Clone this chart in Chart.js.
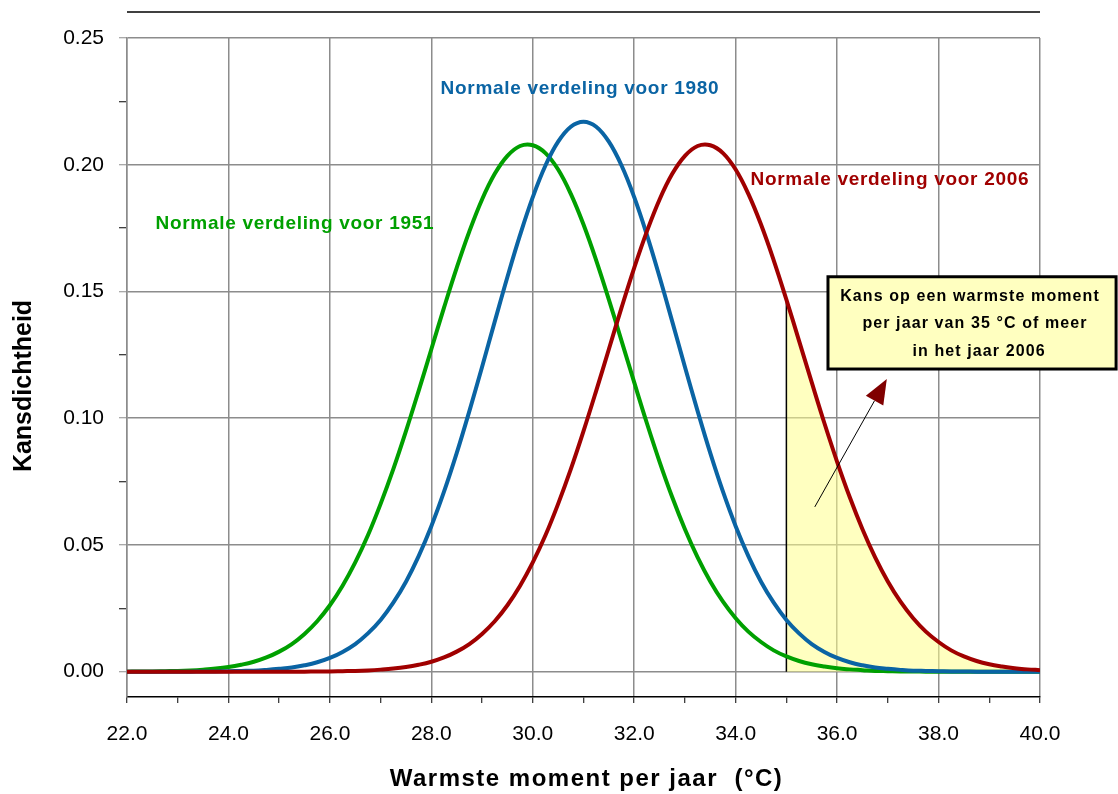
<!DOCTYPE html>
<html>
<head>
<meta charset="utf-8">
<title>Kansdichtheid warmste moment per jaar</title>
<script src="https://cdn.jsdelivr.net/npm/chart.js@4.4.1/dist/chart.umd.min.js"></script>
<style>
  html, body { margin: 0; padding: 0; background: #fff; }
</style>
</head>
<body>
<canvas id="chart" width="1118" height="794"></canvas>
<script>
// temperatures (°C), step 0.25
const temps = [22.00, 22.25, 22.50, 22.75, 23.00, 23.25, 23.50, 23.75, 24.00, 24.25, 24.50, 24.75,
    25.00, 25.25, 25.50, 25.75, 26.00, 26.25, 26.50, 26.75, 27.00, 27.25, 27.50, 27.75,
    28.00, 28.25, 28.50, 28.75, 29.00, 29.25, 29.50, 29.75, 30.00, 30.25, 30.50, 30.75,
    31.00, 31.25, 31.50, 31.75, 32.00, 32.25, 32.50, 32.75, 33.00, 33.25, 33.50, 33.75,
    34.00, 34.25, 34.50, 34.75, 35.00, 35.25, 35.50, 35.75, 36.00, 36.25, 36.50, 36.75,
    37.00, 37.25, 37.50, 37.75, 38.00, 38.25, 38.50, 38.75, 39.00, 39.25, 39.50, 39.75, 40.00];

// probability density
const dens1951 = [0.0000, 0.0001, 0.0001, 0.0002, 0.0003, 0.0005, 0.0008, 0.0012, 0.0018, 0.0027,
    0.0039, 0.0056, 0.0079, 0.0109, 0.0149, 0.0199, 0.0262, 0.0339, 0.0431, 0.0538, 0.0662,
    0.0799, 0.0949, 0.1108, 0.1272, 0.1436, 0.1593, 0.1737, 0.1863, 0.1964, 0.2035, 0.2074,
    0.2077, 0.2046, 0.1981, 0.1885, 0.1764, 0.1623, 0.1468, 0.1305, 0.1141, 0.0980, 0.0828,
    0.0688, 0.0562, 0.0451, 0.0356, 0.0276, 0.0211, 0.0158, 0.0117, 0.0084, 0.0060, 0.0042,
    0.0029, 0.0020, 0.0013, 0.0009, 0.0006, 0.0003, 0.0002, 0.0001, 0.0001, 0.0000, 0.0000,
    0.0000, 0.0000, 0.0000, 0.0000, 0.0000, 0.0000, 0.0000, 0.0000];
const dens1980 = [0.0000, 0.0000, 0.0000, 0.0000, 0.0000, 0.0000, 0.0001, 0.0001, 0.0002, 0.0003,
    0.0004, 0.0007, 0.0011, 0.0016, 0.0025, 0.0037, 0.0054, 0.0078, 0.0109, 0.0151, 0.0204,
    0.0272, 0.0355, 0.0456, 0.0574, 0.0710, 0.0862, 0.1028, 0.1202, 0.1381, 0.1557, 0.1723,
    0.1872, 0.1997, 0.2091, 0.2150, 0.2170, 0.2150, 0.2091, 0.1997, 0.1872, 0.1723, 0.1557,
    0.1381, 0.1202, 0.1028, 0.0862, 0.0710, 0.0574, 0.0456, 0.0355, 0.0272, 0.0204, 0.0151,
    0.0109, 0.0078, 0.0054, 0.0037, 0.0025, 0.0016, 0.0011, 0.0007, 0.0004, 0.0003, 0.0002,
    0.0001, 0.0001, 0.0000, 0.0000, 0.0000, 0.0000, 0.0000, 0.0000];
const dens2006 = [0.0000, 0.0000, 0.0000, 0.0000, 0.0000, 0.0000, 0.0000, 0.0000, 0.0000, 0.0000,
    0.0000, 0.0000, 0.0000, 0.0000, 0.0000, 0.0001, 0.0001, 0.0002, 0.0003, 0.0005, 0.0008,
    0.0012, 0.0018, 0.0027, 0.0039, 0.0056, 0.0079, 0.0109, 0.0149, 0.0199, 0.0262, 0.0339,
    0.0431, 0.0538, 0.0662, 0.0799, 0.0949, 0.1108, 0.1272, 0.1436, 0.1593, 0.1737, 0.1863,
    0.1964, 0.2035, 0.2074, 0.2077, 0.2046, 0.1981, 0.1885, 0.1764, 0.1623, 0.1468, 0.1305,
    0.1141, 0.0980, 0.0828, 0.0688, 0.0562, 0.0451, 0.0356, 0.0276, 0.0211, 0.0158, 0.0117,
    0.0084, 0.0060, 0.0042, 0.0029, 0.0020, 0.0013, 0.0009, 0.0006];

const xTicks = [22, 23, 24, 25, 26, 27, 28, 29, 30, 31, 32, 33, 34, 35, 36, 37, 38, 39, 40];
const yTicks = [0, 0.025, 0.05, 0.075, 0.1, 0.125, 0.15, 0.175, 0.2, 0.225, 0.25];
const threshold = 35;

const FONT = 'Arial, "Liberation Sans", sans-serif';
const GRID = '#8c8c8c';
const GREEN = '#00a000';
const BLUE = '#0a64a4';
const RED = '#a00000';

const pts = (ys) => temps.map((t, i) => ({ x: t, y: ys[i] }));
const tailPts = pts(dens2006).filter(p => p.x >= threshold);
const redAtThreshold = dens2006[temps.indexOf(threshold)];
const isMajorY = (v) => Math.round(v * 1000) % 50 === 0;

// axis titles, frame line on top, curve labels, call-out box and arrow
const decor = {
    id: "decor",
    afterDraw(chart) {
        const { ctx, chartArea, scales } = chart;
        const px = (v) => scales.x.getPixelForValue(v);
        const py = (v) => scales.y.getPixelForValue(v);
        ctx.save();
        ctx.textAlign = 'center';
        ctx.textBaseline = 'middle';

        ctx.strokeStyle = '#000';
        ctx.lineWidth = 1.5;
        ctx.beginPath();
        ctx.moveTo(chartArea.left, chartArea.top - 26);
        ctx.lineTo(chartArea.right, chartArea.top - 26);
        ctx.stroke();

        // axis titles
        ctx.fillStyle = '#000';
        ctx.font = `bold 24px ${FONT}`;
        ctx.letterSpacing = '1.5px';
        ctx.fillText('Warmste moment per jaar  (°C)', (chartArea.left + chartArea.right) / 2 + 3, 779);
        ctx.save();
        ctx.translate(24, 386);
        ctx.rotate(-Math.PI / 2);
        ctx.font = `bold 25px ${FONT}`;
        ctx.letterSpacing = '0px';
        ctx.fillText('Kansdichtheid', 0, 0);
        ctx.restore();

        ctx.font = `bold 19px ${FONT}`;
        ctx.letterSpacing = '0.7px';
        ctx.fillStyle = GREEN;
        ctx.fillText('Normale verdeling voor 1951', px(25.31), py(0.1767));
        ctx.fillStyle = BLUE;
        ctx.fillText('Normale verdeling voor 1980', px(30.93), py(0.2299));
        ctx.fillStyle = RED;
        ctx.fillText('Normale verdeling voor 2006', px(37.04), py(0.194));

        // arrow
        const x0 = px(35.56), y0 = py(0.065);
        const x1 = px(36.98), y1 = py(0.1155);
        const ang = Math.atan2(y1 - y0, x1 - x0);
        const hl = 25, hw = 10;
        const bx = x1 - hl * Math.cos(ang), by = y1 - hl * Math.sin(ang);
        ctx.strokeStyle = '#000';
        ctx.lineWidth = 1;
        ctx.beginPath();
        ctx.moveTo(x0, y0);
        ctx.lineTo(bx, by);
        ctx.stroke();
        ctx.fillStyle = '#800000';
        ctx.beginPath();
        ctx.moveTo(x1, y1);
        ctx.lineTo(bx + hw * Math.sin(ang), by - hw * Math.cos(ang));
        ctx.lineTo(bx - hw * Math.sin(ang), by + hw * Math.cos(ang));
        ctx.closePath();
        ctx.fill();

        // call-out box
        const l = px(35.82), r = px(41.5), t = py(0.1558), b = py(0.1194);
        ctx.fillStyle = '#ffffc0';
        ctx.fillRect(l, t, r - l, b - t);
        ctx.strokeStyle = '#000';
        ctx.lineWidth = 3;
        ctx.strokeRect(l, t, r - l, b - t);
        ctx.fillStyle = '#000';
        ctx.font = `bold 16px ${FONT}`;
        ctx.letterSpacing = '1.1px';
        const cx = (l + r) / 2;
        ctx.fillText('Kans op een warmste moment', cx - 2, t + 20);
        ctx.fillText('per jaar van 35 °C of meer', cx + 3, t + 47);
        ctx.fillText('in het jaar 2006', cx + 7, t + 75);

        ctx.restore();
    }
};

new Chart(document.getElementById("chart"), {
    type: "line",
    data: {
        datasets: [
            {
                data: tailPts,
                fill: 'origin',
                backgroundColor: 'rgba(255,255,140,0.55)',
                borderWidth: 0,
                pointRadius: 0,
                tension: 0.4,
                order: 10,
            },
            {
                data: [{ x: threshold, y: 0 }, { x: threshold, y: redAtThreshold }],
                borderColor: '#000',
                borderWidth: 1.5,
                pointRadius: 0,
                order: 4,
            },
            {
                label: '1951',
                data: pts(dens1951),
                borderColor: GREEN,
                borderWidth: 4,
                pointRadius: 0,
                tension: 0.4,
                order: 3,
            },
            {
                label: '1980',
                data: pts(dens1980),
                borderColor: BLUE,
                borderWidth: 4,
                pointRadius: 0,
                tension: 0.4,
                order: 2,
            },
            {
                label: '2006',
                data: pts(dens2006),
                borderColor: RED,
                borderWidth: 4,
                pointRadius: 0,
                tension: 0.4,
                order: 1,
            },
        ],
    },
    options: {
        responsive: false,
        animation: false,
        devicePixelRatio: 1,
        layout: { padding: { top: 38, right: 78, left: 0, bottom: 0 } },
        plugins: {
            legend: { display: false },
            tooltip: { enabled: false },
        },
        scales: {
            x: {
                type: 'linear',
                min: 22,
                max: 40,
                afterBuildTicks: (s) => { s.ticks = xTicks.map(v => ({ value: v })); },
                afterFit: (s) => { s.height = 97; },
                ticks: {
                    autoSkip: false,
                    maxRotation: 0,
                    padding: 19,
                    color: '#000',
                    font: { family: FONT, size: 21 },
                    callback: (v) => (v % 2 === 0 ? v.toFixed(1) : ''),
                },
                grid: {
                    color: (c) => (c.tick && c.tick.value % 2 === 0 ? GRID : 'rgba(0,0,0,0)'),
                    lineWidth: 1.5,
                    tickColor: '#000',
                    tickLength: 6,
                    tickWidth: 1,
                },
                border: { color: '#000', width: 1.5 },
            },
            y: {
                min: -0.01,
                max: 0.25,
                afterBuildTicks: (s) => { s.ticks = yTicks.map(v => ({ value: v })); },
                afterFit: (s) => { s.width = 127; },
                ticks: {
                    padding: 15,
                    color: '#000',
                    font: { family: FONT, size: 21 },
                    callback: (v) => (isMajorY(v) ? v.toFixed(2) : ''),
                },
                grid: {
                    color: (c) => (c.tick && isMajorY(c.tick.value) ? GRID : 'rgba(0,0,0,0)'),
                    lineWidth: 1.5,
                    tickColor: (c) => (c.tick && isMajorY(c.tick.value) ? GRID : '#000'),
                    tickLength: 8,
                    tickWidth: 1,
                },
                border: { color: GRID, width: 1.5 },
            },
        },
    },
    plugins: [decor],
});
</script>
</body>
</html>
